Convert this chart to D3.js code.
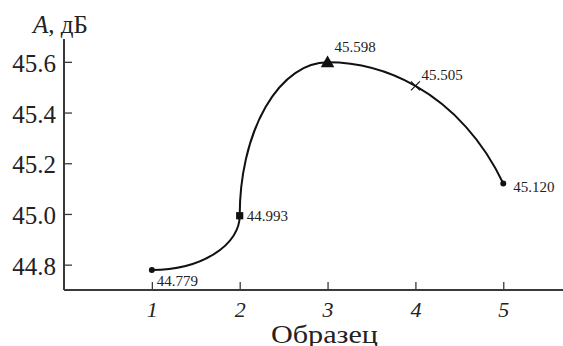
<!DOCTYPE html>
<html>
<head>
<meta charset="utf-8">
<script src="https://cdn.jsdelivr.net/npm/d3@7/dist/d3.min.js"></script>
<style>
  html, body { margin: 0; padding: 0; background: #fff; }
  svg, svg text { font-family: "Liberation Serif", "Times New Roman", serif !important; }
</style>
</head>
<body>
<svg id="chart" width="563" height="346"></svg>
<script>
// Samples and measured amplitude A (dB)
const samples = [1, 2, 3, 4, 5];
const amplitude = [44.779, 44.993, 45.598, 45.505, 45.120];
const markerTypes = ["dot", "square", "triangle", "cross", "dot"];
const yTicks = [44.8, 45.0, 45.2, 45.4, 45.6];
const xTicks = [1, 2, 3, 4, 5];

const svg = d3.select("#chart");
const axisColor = "#3a3a3a";
const inkColor = "#111";
const textColor = "#222";
const serif = '"Liberation Serif", "Times New Roman", serif';

const x = d3.scaleLinear().domain([0, 5.68]).range([64, 563]);
const y = d3.scaleLinear().domain([44.7, 45.7]).range([290, 36.5]);

// Axes: ticks point inward, axis lines drawn separately
const yAxis = svg.append("g")
  .attr("transform", `translate(${x(0)},0)`)
  .call(d3.axisLeft(y).tickValues(yTicks).tickSize(-8).tickSizeOuter(0)
    .tickFormat(d3.format(".1f")).tickPadding(8));
yAxis.attr("font-family", null).style("font-family", serif);
yAxis.select(".domain").remove();
yAxis.selectAll(".tick line").attr("stroke", axisColor).attr("stroke-width", 1.3);
yAxis.selectAll(".tick text")
  .attr("font-size", 25).attr("fill", textColor)
  .attr("dy", "0.38em");

const xAxis = svg.append("g")
  .attr("transform", `translate(0,${y(44.7)})`)
  .call(d3.axisBottom(x).tickValues(xTicks).tickSize(-8).tickSizeOuter(0)
    .tickFormat(d3.format("d")).tickPadding(11));
xAxis.attr("font-family", null).style("font-family", serif);
xAxis.select(".domain").remove();
xAxis.selectAll(".tick line").attr("stroke", axisColor).attr("stroke-width", 1.3);
xAxis.selectAll(".tick text")
  .attr("font-size", 22).attr("fill", textColor)
  .attr("font-style", "italic");

svg.append("line")
  .attr("x1", x(0)).attr("x2", x(0))
  .attr("y1", y(44.7)).attr("y2", 39)
  .attr("stroke", axisColor).attr("stroke-width", 2);
svg.append("line")
  .attr("x1", x(0)).attr("x2", 563)
  .attr("y1", y(44.7)).attr("y2", y(44.7))
  .attr("stroke", axisColor).attr("stroke-width", 2);

// Axis titles
const yTitle = svg.append("text")
  .attr("x", 33).attr("y", 33)
  .attr("font-size", 25).attr("fill", textColor);
yTitle.append("tspan").attr("font-style", "italic").text("A");
yTitle.append("tspan").text(", дБ");

svg.append("text")
  .attr("x", 271).attr("y", 342.5)
  .attr("font-size", 25).attr("fill", textColor)
  .attr("textLength", 107).attr("lengthAdjust", "spacingAndGlyphs")
  .text("Образец");

// Smooth curve through the points made of elliptical arcs:
// rising segments are quarter ellipses, the falling part after the
// maximum is one ellipse whose top sits on the peak.
const pts = samples.map((s, i) => [x(s), y(amplitude[i])]);
const peak = amplitude.indexOf(d3.max(amplitude));

function arcPath(points, iMax) {
  let p = `M${points[0][0]},${points[0][1]}`;
  for (let i = 0; i < iMax; i++) {
    const [x0, y0] = points[i];
    const [x1, y1] = points[i + 1];
    const rx = Math.abs(x1 - x0), ry = Math.abs(y1 - y0);
    // alternate convex / concave quarter arcs leading up to the peak
    const sweep = (iMax - 1 - i) % 2 === 0 ? 1 : 0;
    p += ` A${rx},${ry} 0 0 ${sweep} ${x1},${y1}`;
  }
  const tail = points.slice(iMax);
  if (tail.length >= 3) {
    const [xp, yp] = tail[0];
    const [xa, ya] = tail[1];
    const [xb, yb] = tail[tail.length - 1];
    const d4 = xa - xp, d5 = xb - xp, k4 = ya - yp, k5 = yb - yp;
    const r = (d5 * d5) / (d4 * d4);
    const v = 2 * (k5 - r * k4) / (k5 * k5 - r * k4 * k4);
    const ry = 1 / v;
    const u = (2 * k4 * v - k4 * k4 * v * v) / (d4 * d4);
    const rx = 1 / Math.sqrt(u);
    for (let j = 1; j < tail.length; j++) {
      p += ` A${rx},${ry} 0 0 1 ${tail[j][0]},${tail[j][1]}`;
    }
  } else if (tail.length === 2) {
    p += ` L${tail[1][0]},${tail[1][1]}`;
  }
  return p;
}

svg.append("path")
  .attr("d", arcPath(pts, peak))
  .attr("fill", "none")
  .attr("stroke", inkColor)
  .attr("stroke-width", 2);

// Markers
const symbolFor = {
  dot: d3.symbol().type(d3.symbolCircle).size(28),
  square: d3.symbol().type(d3.symbolSquare).size(52),
  triangle: d3.symbol().type(d3.symbolTriangle).size(80),
};
pts.forEach(([px, py], i) => {
  const t = markerTypes[i];
  if (t === "cross") {
    svg.append("path")
      .attr("transform", `translate(${px},${py})`)
      .attr("d", "M-4.5,-4.5L4.5,4.5M-4.5,4.5L4.5,-4.5")
      .attr("stroke", inkColor).attr("stroke-width", 1.1).attr("fill", "none");
  } else {
    svg.append("path")
      .attr("transform", `translate(${px},${py + (t === "triangle" ? 1 : 0)})`)
      .attr("d", symbolFor[t]())
      .attr("fill", inkColor);
  }
});

// Value labels
const labelOffsets = [[5, 16], [7, 5], [7, -10], [6, -6], [10, 8]];
amplitude.forEach((v, i) => {
  svg.append("text")
    .attr("x", pts[i][0] + labelOffsets[i][0])
    .attr("y", pts[i][1] + labelOffsets[i][1])
    .attr("font-size", 15).attr("fill", textColor)
    .text(d3.format(".3f")(v));
});
</script>
</body>
</html>
